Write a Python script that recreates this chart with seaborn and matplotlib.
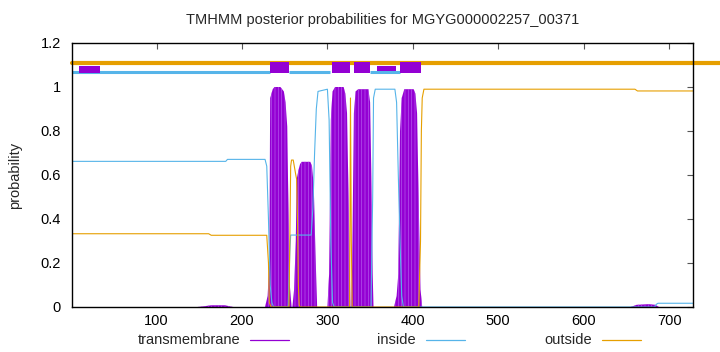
import numpy as np
import pandas as pd
import matplotlib
matplotlib.use("Agg")
import matplotlib.pyplot as plt
from matplotlib.lines import Line2D
import seaborn as sns

# sequence / title
protein_id = "MGYG000002257_00371"
seq_len = 728

# posterior probability key points
tm_x = [1, 148, 155, 164, 180, 187, 190,
        227, 230, 232, 233, 236, 238, 245, 249, 251, 253, 254, 256, 258,
        259, 261, 263, 264, 266, 268, 270, 280, 282, 284, 286, 288,
        300, 302, 304, 306, 309, 319, 321, 323, 325, 327,
        328, 329, 331, 333, 336, 348, 350, 351, 353, 354,
        378, 381, 383, 385, 387, 390, 401, 403, 405, 407, 409, 411,
        655, 662, 676, 684, 688, 728]
tm_p = [0, 0, 0.003, 0.008, 0.008, 0.002, 0,
        0, 0.05, 0.2, 0.95, 0.99, 1.0, 1.0, 0.98, 0.93, 0.82, 0.55, 0.1, 0,
        0, 0.08, 0.3, 0.58, 0.62, 0.65, 0.66, 0.66, 0.64, 0.55, 0.25, 0,
        0, 0.15, 0.85, 0.98, 1.0, 1.0, 0.97, 0.88, 0.45, 0,
        0, 0.2, 0.88, 0.98, 0.99, 0.99, 0.93, 0.7, 0.15, 0,
        0, 0.05, 0.15, 0.8, 0.95, 0.99, 0.99, 0.97, 0.88, 0.45, 0.08, 0,
        0, 0.01, 0.013, 0.01, 0, 0]

inside_x = [1, 181, 183, 227, 229, 231, 233, 235, 237,
            254, 256, 257, 281, 283, 285, 287, 289, 300, 302, 304, 306, 308,
            351, 353, 354, 356, 379, 381, 383, 385, 387, 389,
            683, 685, 687, 728]
inside_p = [0.662, 0.662, 0.671, 0.671, 0.64, 0.4, 0.1, 0.02, 0,
            0, 0.25, 0.327, 0.327, 0.45, 0.7, 0.9, 0.98, 0.99, 0.85, 0.3, 0.02, 0,
            0, 0.5, 0.95, 0.99, 0.99, 0.93, 0.6, 0.3, 0.05, 0,
            0, 0.012, 0.017, 0.017]

outside_x = [1, 161, 164, 229, 231, 232, 234,
             255, 256, 257, 258, 260, 263, 264, 265, 266, 267, 268,
             326, 327, 328, 329,
             407, 409, 410, 411, 413, 660, 663, 728]
outside_p = [0.333, 0.333, 0.326, 0.326, 0.2, 0.02, 0,
             0, 0.3, 0.64, 0.668, 0.668, 0.6, 0.58, 0.4, 0.1, 0.01, 0,
             0, 0.95, 0.3, 0,
             0, 0.3, 0.8, 0.95, 0.99, 0.99, 0.982, 0.982]

# predicted topology band along the top
tm_segments = [(233, 255), (305, 327), (331, 350), (385, 409)]
weak_tm_segments = [(9, 34), (358, 380)]
inside_segments = [(1, 233), (255, 303), (350, 385)]

x_ticks = [100, 200, 300, 400, 500, 600, 700]
y_ticks = [0, 0.2, 0.4, 0.6, 0.8, 1.0, 1.2]
y_tick_labels = ["0", "0.2", "0.4", "0.6", "0.8", "1", "1.2"]

c_tm = "#9400D3"
c_in = "#56B4E9"
c_out = "#E69F00"

sns.set_theme(style="white")
plt.rcParams["font.family"] = ["Liberation Sans", "DejaVu Sans"]
plt.rcParams["hatch.color"] = "#B456EC"
plt.rcParams["hatch.linewidth"] = 0.5

fig = plt.figure(figsize=(7.2, 3.52), dpi=100)
ax = fig.add_axes([72 / 720, 1 - 307 / 352, 621 / 720, 264 / 352])

# transmembrane probability (impulse-like fill)
ax.fill_between(tm_x, tm_p, 0, facecolor=c_tm, edgecolor="#B456EC",
                hatch="|||||", linewidth=0, zorder=2)

in_df = pd.DataFrame({"pos": inside_x, "p": inside_p})
out_df = pd.DataFrame({"pos": outside_x, "p": outside_p})
sns.lineplot(data=in_df, x="pos", y="p", ax=ax, color=c_in, linewidth=0.8,
             estimator=None, sort=False, zorder=3)
sns.lineplot(data=out_df, x="pos", y="p", ax=ax, color=c_out, linewidth=0.8,
             estimator=None, sort=False, zorder=3)

# topology band
ax.axhline(1.109, xmin=0, xmax=1.045, color=c_out, linewidth=3.0,
           clip_on=False, zorder=2)
for a, b in inside_segments:
    ax.plot([a, b], [1.068, 1.068], color=c_in, linewidth=2.2,
            solid_capstyle="butt", zorder=3)
for a, b in tm_segments:
    ax.fill_between([a, b], 1.062, 1.112, color=c_tm, linewidth=0, zorder=4)
for i, (a, b) in enumerate(weak_tm_segments):
    lo = 1.064 if i == 0 else 1.074
    ax.fill_between([a, b], lo, 1.095, color=c_tm, linewidth=0, zorder=4)

ax.set_xlim(1, seq_len)
ax.set_ylim(0, 1.2)
ax.set_xticks(x_ticks)
ax.set_xticklabels([str(t) for t in x_ticks])
ax.set_yticks(y_ticks)
ax.set_yticklabels(y_tick_labels)
ax.set_xlabel("")
ax.set_ylabel("")
ax.tick_params(axis="both", direction="in", length=4, width=0.8,
               color="#555555", labelsize=10.5, labelcolor="black",
               top=True, right=True)
ax.tick_params(axis="x", pad=5)
ax.tick_params(axis="y", pad=8)
for s in ax.spines.values():
    s.set_color("black")
    s.set_linewidth(1.0)
    s.set_zorder(5)

fig.text(382.5 / 720, 1 - 20 / 352, f"TMHMM posterior probabilities for {protein_id}",
         ha="center", va="center", fontsize=10.5)
fig.text(15 / 720, 1 - 175 / 352, "probability", rotation=90,
         ha="center", va="center", fontsize=10.5)

# gnuplot-style key at the bottom
legend_items = [("transmembrane", c_tm, 240), ("inside", c_in, 416), ("outside", c_out, 592)]
ky = 1 - 340 / 352
for label, col, xend in legend_items:
    fig.text(xend / 720, ky, label, ha="right", va="center", fontsize=10.5)
    fig.add_artist(Line2D([(xend + 10) / 720, (xend + 49) / 720], [ky, ky],
                          color=col, linewidth=0.9, transform=fig.transFigure))

fig.savefig("out.png", dpi=100)
